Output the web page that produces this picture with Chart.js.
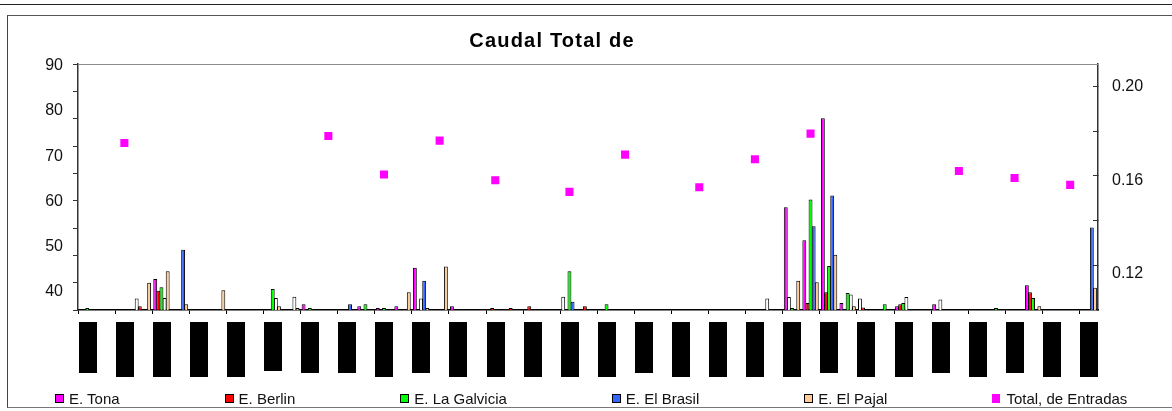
<!DOCTYPE html>
<html>
<head>
<meta charset="utf-8">
<script src="https://cdn.jsdelivr.net/npm/chart.js@4.4.1/dist/chart.umd.min.js"></script>
<style>
  html, body { margin: 0; padding: 0; background: #fff; }
  body { width: 1172px; height: 411px; position: relative; overflow: hidden; font-family: "Liberation Sans", Arial, sans-serif; }
  #topline { position: absolute; left: 0; top: 4px; width: 1172px; border-top: 1px solid #222; }
  #frame { position: absolute; left: 7px; top: 15px; width: 1170px; height: 391px;
           border-left: 1px solid #444; border-top: 1px solid #555; border-bottom: 1px solid #777; }
  #chart { position: absolute; left: 0; top: 0; }
  #legend { position: absolute; left: 0; top: 388px; height: 20px; display: flex; align-items: center;
            padding-left: 55px; gap: 105px; font-size: 15px; color: #111; white-space: nowrap; }
  #legend .item { display: flex; align-items: center; }
  #legend .box { display: inline-block; width: 9px; height: 9px; box-sizing: border-box; border: 1px solid #000; margin-right: 5px; }
  #legend .box.mark { border: none; width: 8px; height: 9px; margin-right: 6px; }
</style>
</head>
<body>
<div id="topline"></div>
<div id="frame"><canvas id="chart" width="1164" height="391"></canvas></div>
<div id="legend"></div>
<script>
const _ = null;

// 55 daily categories; the source has its date labels blacked out, one every 2 days
const categories = Array.from({ length: 55 }, (_v, i) => String(i + 1));

// Caudal per station (left axis)
const tona = [
  _, _, _, 38.5, 42.8, _, _, _, _, _,
  _, _, 37.2, _, _, 36.8, 36.4, 36.8, 45.3, _,
  36.8, _, _, _, _, _, 38.9, _, _, _,
  _, _, _, _, _, _, _, 38.5, 58.7, 51.4,
  78.4, 37.5, 38.5, _, 36.8, _, 37.2, _, _, _,
  _, 41.4, _, _, _
];
const berlin = [
  _, _, _, 36.8, 40.2, _, _, _, _, _,
  _, _, _, _, _, _, _, _, _, _,
  _, _, 36.4, 36.4, 36.8, _, _, 36.8, _, _,
  _, _, _, _, _, _, _, _, 38.8, 37.5,
  39.9, _, 36.5, _, 37.2, _, _, _, _, _,
  _, 39.9, _, _, _
];
const galvicia = [
  36.4, _, _, _, 41.0, _, _, _, _, _,
  40.6, _, 36.4, _, _, 37.2, 36.4, _, 38.5, _,
  _, _, _, _, _, _, 44.5, _, 37.2, _,
  _, _, _, _, _, _, _, _, 36.4, 60.4,
  45.7, 39.7, _, 37.2, 37.5, _, 38.3, _, _, 36.4,
  _, 38.6, _, _, _
];
const brasil = [
  _, _, _, _, 38.6, 49.3, _, _, _, _,
  38.6, 38.9, _, _, 37.2, _, _, _, 42.4, _,
  _, _, _, _, _, _, 37.8, _, _, _,
  _, _, _, _, _, _, _, _, _, 54.5,
  61.3, 39.4, _, _, 38.8, _, _, _, _, _,
  _, _, _, _, 54.2
];
const pajal = [
  _, _, _, 42.0, 44.5, 37.2, _, 40.3, _, _,
  36.8, 36.4, _, _, _, _, _, 39.9, 36.4, 45.6,
  _, _, _, _, _, _, _, _, _, _,
  _, _, _, _, _, _, _, _, 42.4, 42.1,
  48.2, 36.8, _, _, _, _, _, _, _, _,
  _, 36.8, _, _, 40.9
];

// Total de entradas (right axis)
const totalEntradas = [
  _, _, 0.176, _, _, _, _, _, _, _,
  _, _, _, 0.179, _, _, 0.1625, _, _, 0.177,
  _, _, 0.160, _, _, _, 0.155, _, _, 0.171,
  _, _, _, 0.157, _, _, 0.169, _, _, 0.180,
  _, _, _, _, _, _, _, 0.164, _, _,
  0.161, _, _, 0.158, _
];

// tick labels
const leftLabels = [40, 50, 60, 70, 80, 90];
const rightLabels = [0.12, 0.16, 0.20];
const rightTicks = [0.12, 0.14, 0.16, 0.18, 0.20];

// points drawn with a white fill in the source
const hollow = { tona: [3, 26, 37, 42], berlin: [38], galvicia: [18, 46], brasil: [4, 10, 11, 41, 44], pajal: [] };

// length of the blacked-out date labels, every other category
const labelLen = [51, 55, 55, 55, 55, 49, 51, 51, 55, 51, 55, 55, 55, 55,
                  55, 51, 55, 55, 55, 55, 51, 55, 55, 51, 55, 51, 55, 55];

function barSet(label, data, color, hollowIdx) {
  return {
    label,
    data,
    yAxisID: 'yl',
    backgroundColor: ctx => hollowIdx.includes(ctx.dataIndex) ? '#ffffff' : color,
    legendColor: color,
    borderColor: '#000',
    borderWidth: 1,
    categoryPercentage: 0.84,
    barPercentage: 1.25
  };
}

const decorations = {
  id: 'decorations',
  beforeDatasetsDraw(chart) {
    const { ctx, chartArea } = chart;
    ctx.save();
    ctx.strokeStyle = '#8c8c8c';
    ctx.lineWidth = 1;
    ctx.beginPath();
    ctx.moveTo(chartArea.left, chartArea.top + 0.5);
    ctx.lineTo(chartArea.right, chartArea.top + 0.5);
    ctx.stroke();
    ctx.restore();
  },
  afterDraw(chart) {
    const { ctx, chartArea } = chart;
    const x = chart.scales.x;
    ctx.save();
    // Title
    ctx.font = 'bold 20px "Liberation Sans", Arial, sans-serif';
    ctx.fillStyle = '#000';
    ctx.textAlign = 'center';
    ctx.textBaseline = 'alphabetic';
    ctx.letterSpacing = '1.2px';
    ctx.fillText('Caudal Total de', 544, 31);
    ctx.letterSpacing = '0px';
    // Blacked-out date labels
    const w = x.width / categories.length;
    for (let i = 0; i < categories.length; i += 2) {
      const left = x.getPixelForValue(i) - w / 2 + 0.5;
      ctx.fillStyle = '#000';
      ctx.fillRect(Math.round(left), chartArea.bottom + 12, Math.round(w - 1), labelLen[i / 2]);
    }
    ctx.restore();
  }
};

const chart = new Chart(document.getElementById('chart'), {
  type: 'bar',
  data: {
    labels: categories,
    datasets: [
      barSet('E. Tona', tona, '#FF00FF', hollow.tona),
      barSet('E. Berlin', berlin, '#FF0000', hollow.berlin),
      barSet('E. La Galvicia', galvicia, '#00FF00', hollow.galvicia),
      barSet('E. El Brasil', brasil, '#3366FF', hollow.brasil),
      barSet('E. El Pajal', pajal, '#FFCC99', hollow.pajal),
      {
        type: 'line',
        label: 'Total, de Entradas',
        data: totalEntradas,
        yAxisID: 'y1l',
        showLine: false,
        order: -1,
        legendColor: '#FF00FF',
        pointStyle: 'rect',
        pointRadius: 5.7,
        pointHoverRadius: 5.7,
        pointBackgroundColor: '#FF00FF',
        pointBorderWidth: 0,
        borderColor: '#FF00FF'
      }
    ]
  },
  options: {
    responsive: false,
    animation: false,
    layout: { padding: { top: 48, left: 0, right: 0, bottom: 0 } },
    plugins: {
      legend: { display: false },
      title: { display: false },
      tooltip: { enabled: false }
    },
    scales: {
      x: {
        type: 'category',
        offset: true,
        grid: {
          offset: true,
          drawOnChartArea: false,
          tickLength: 4,
          tickColor: ctx => ctx.index % 2 === 0 ? '#000' : 'rgba(0,0,0,0)'
        },
        border: { display: true, color: '#000', width: 1.5 },
        ticks: { display: false, autoSkip: false },
        afterFit: s => { s.height = 97; }
      },
      yl: {
        type: 'linear',
        position: 'left',
        weight: 2,
        min: 35.95,
        max: 90.38,
        afterBuildTicks: s => { s.ticks = leftLabels.map(value => ({ value })); },
        ticks: { padding: 0, color: '#111', font: { family: '"Liberation Sans", Arial, sans-serif', size: 16 }, callback: v => String(v) },
        grid: { display: false, drawTicks: false },
        border: { display: false },
        afterFit: s => { s.width = 55; }
      },
      yt: {
        type: 'linear',
        position: 'left',
        weight: 1,
        min: 0,
        max: 90,
        ticks: { display: false, stepSize: 10 },
        grid: { drawOnChartArea: false, tickLength: 5, color: '#333' },
        border: { display: true, color: '#333', width: 1.5 },
        afterFit: s => { s.width = 15; }
      },
      y1t: {
        type: 'linear',
        position: 'right',
        weight: 1,
        min: 0.10,
        max: 0.2101,
        afterBuildTicks: s => { s.ticks = rightTicks.map(value => ({ value })); },
        ticks: { display: false },
        grid: { drawOnChartArea: false, tickLength: -5, color: '#333' },
        border: { display: true, color: '#333', width: 1.5 },
        afterFit: s => { s.width = 0; }
      },
      y1l: {
        type: 'linear',
        position: 'right',
        weight: 2,
        min: 0.1043,
        max: 0.2099,
        afterBuildTicks: s => { s.ticks = rightLabels.map(value => ({ value })); },
        ticks: { padding: 14, color: '#111', font: { family: '"Liberation Sans", Arial, sans-serif', size: 16 }, callback: v => v.toFixed(2) },
        grid: { display: false, drawTicks: false },
        border: { display: false },
        afterFit: s => { s.width = 74; }
      }
    }
  },
  plugins: [decorations]
});

// HTML legend built from the datasets
const legendEl = document.getElementById('legend');
chart.data.datasets.forEach(ds => {
  const item = document.createElement('span');
  item.className = 'item';
  const box = document.createElement('span');
  box.className = ds.type === 'line' ? 'box mark' : 'box';
  box.style.background = ds.legendColor;
  item.appendChild(box);
  item.appendChild(document.createTextNode(ds.label));
  legendEl.appendChild(item);
});
</script>
</body>
</html>
